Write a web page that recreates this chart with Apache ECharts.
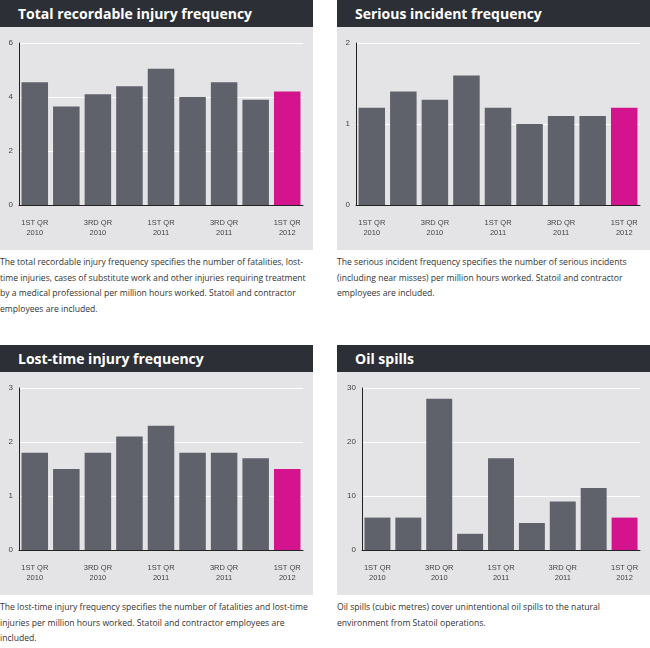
<!DOCTYPE html><html><head><meta charset="utf-8">
<script src="https://cdn.jsdelivr.net/npm/echarts@6/dist/echarts.min.js"></script>
<style>
body{margin:0;width:650px;height:648px;background:#fff;font-family:"Open Sans",sans-serif;position:relative;overflow:hidden}
.h{position:absolute;height:27px;background:#2d2f37;color:#fff;font-weight:bold;font-size:14px;line-height:28px;padding-left:18px;box-sizing:border-box}
.c{position:absolute;background:#e4e4e6}
.t{position:absolute;font-size:8.6px;line-height:15.5px;color:#333}
</style></head><body>
<div class="h" style="left:0;top:0;width:313px">Total recordable injury frequency</div>
<div class="h" style="left:337px;top:0;width:313px">Serious incident frequency</div>
<div class="h" style="left:0;top:345px;width:313px">Lost-time injury frequency</div>
<div class="h" style="left:337px;top:345px;width:313px">Oil spills</div>
<div class="c" id="c1" style="left:0;top:27px;width:313px;height:223px"></div>
<div class="c" id="c2" style="left:337px;top:27px;width:313px;height:223px"></div>
<div class="c" id="c3" style="left:0;top:372px;width:313px;height:223px"></div>
<div class="c" id="c4" style="left:337px;top:372px;width:313px;height:223px"></div>
<div class="t" style="left:0;top:255px;width:313px">The total recordable injury frequency specifies the number of fatalities, lost-time injuries, cases of substitute work and other injuries requiring treatment by a medical professional per million hours worked. Statoil and contractor employees are included.</div>
<div class="t" style="left:337px;top:255px;width:313px">The serious incident frequency specifies the number of serious incidents (including near misses) per million hours worked. Statoil and contractor employees are included.</div>
<div class="t" style="left:0;top:600px;width:313px">The lost-time injury frequency specifies the number of fatalities and lost-time injuries per million hours worked. Statoil and contractor employees are included.</div>
<div class="t" style="left:337px;top:600px;width:313px">Oil spills (cubic metres) cover unintentional oil spills to the natural environment from Statoil operations.</div>
<script>
const categories=["1ST QR\n2010","2ND QR\n2010","3RD QR\n2010","4TH QR\n2010","1ST QR\n2011","2ND QR\n2011","3RD QR\n2011","4TH QR\n2011","1ST QR\n2012"];
const trif=[4.55,3.65,4.1,4.4,5.05,4.0,4.55,3.9,4.2];
const sif=[1.2,1.4,1.3,1.6,1.2,1.0,1.1,1.1,1.2];
const ltif=[1.8,1.5,1.8,2.1,2.3,1.8,1.8,1.7,1.5];
const oil=[6,6,28,3,17,5,9,11.5,6];
function mk(id,data,max,interval,left){
  const ch=echarts.init(document.getElementById(id));
  ch.setOption({animation:false,
    grid:{left:left,right:10,top:16,bottom:45},
    xAxis:{type:'category',data:categories,offset:7,axisTick:{show:false},
      axisLine:{lineStyle:{color:'#222'}},
      axisLabel:{color:'#444',fontSize:7.5,lineHeight:10,margin:6,fontFamily:'Liberation Sans Narrow, Arial Narrow, sans-serif'}},
    yAxis:{type:'value',min:0,max:max,interval:interval,
      axisLine:{show:true,lineStyle:{color:'#222'}},axisTick:{show:false},
      splitLine:{lineStyle:{color:'#fff',width:1}},
      axisLabel:{color:'#444',fontSize:8,margin:6}},
    series:[{type:'bar',barCategoryGap:'16%',
      data:data.map((v,i)=>({value:v,itemStyle:{color:i===data.length-1?'#d4148c':'#5f616b'}}))}]
  });
}
mk('c1',trif,6,2,19);
mk('c2',sif,2,1,19);
mk('c3',ltif,3,1,19);
mk('c4',oil,30,10,25);
</script></body></html>
